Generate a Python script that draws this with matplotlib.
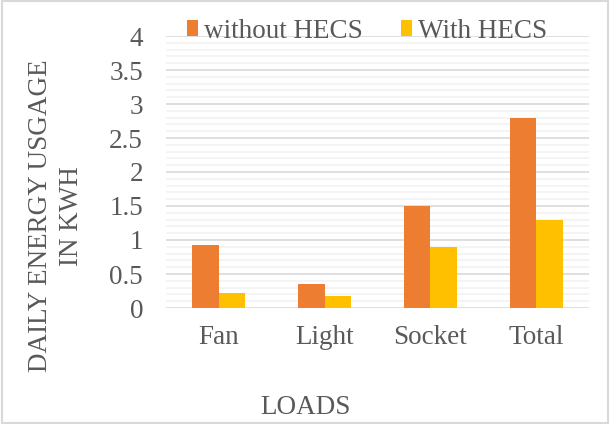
# libraries
import numpy as np
import matplotlib.pyplot as plt
from matplotlib.ticker import MultipleLocator

plt.rcParams['font.family'] = ['Liberation Serif', 'DejaVu Serif']

# data
loads = ['Fan', 'Light', 'Socket', 'Total']
without_hecs = [0.93, 0.35, 1.50, 2.79]
with_hecs = [0.22, 0.17, 0.89, 1.30]

text_color = '#595959'
fs = 19.5
barWidth = 0.25
r1 = np.arange(len(loads))

W, H = 610, 424
fig = plt.figure(figsize=(W / 100, H / 100), dpi=100)
ax = fig.add_axes([166 / W, 1 - 308 / H, 423 / W, 272 / H])

ax.bar(r1 - barWidth / 2, without_hecs, width=barWidth, color='#ED7D31', label='without HECS', zorder=3)
ax.bar(r1 + barWidth / 2, with_hecs, width=barWidth, color='#FFC000', label='With HECS', zorder=3)

ax.set_xlim(-0.5, len(loads) - 0.5)
ax.set_ylim(0, 4)
ax.yaxis.set_major_locator(MultipleLocator(0.5))
ax.yaxis.set_minor_locator(MultipleLocator(0.1))
ax.yaxis.set_major_formatter(plt.FuncFormatter(lambda v, p: f'{v:g}'))
ax.grid(axis='y', which='minor', color='#f2f2f2', lw=1.2, zorder=0)
ax.grid(axis='y', which='major', color='#d9d9d9', lw=1.2, zorder=1)
for s in ax.spines.values():
    s.set_visible(False)

ax.set_xticks(r1)
ax.set_xticklabels(loads)
ax.tick_params(axis='both', which='both', length=0, labelsize=fs, colors=text_color)
ax.tick_params(axis='x', pad=12)
ax.tick_params(axis='y', pad=16.5)

fig.text(305 / W, 1 - 407 / H, 'LOADS', fontsize=fs, color=text_color, ha='center', va='center')
fig.text(56 / W, 1 - 216 / H, 'DAILY ENERGY USGAGE\nIN KWH', fontsize=fs, color=text_color,
         rotation=90, ha='center', va='center', linespacing=1.3, multialignment='center')

leg = fig.legend(loc='center left', bbox_to_anchor=(187 / W, 1 - 31 / H), ncol=2, frameon=False,
                 fontsize=fs, handlelength=0.42, handleheight=0.5, handletextpad=0.22,
                 columnspacing=1.4, borderpad=0, borderaxespad=0, labelcolor=text_color)

# outer border
fig.patches.append(plt.Rectangle((0.003, 0.003), 0.994, 0.994, transform=fig.transFigure,
                                 fill=False, edgecolor='#d9d9d9', lw=1.5))

fig.savefig('out.png', dpi=100)
